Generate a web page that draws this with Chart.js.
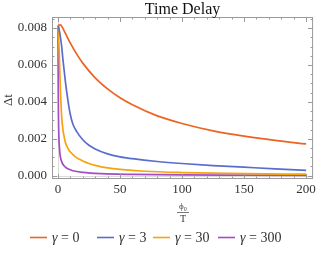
<!DOCTYPE html>
<html>
<head>
<meta charset="utf-8">
<script src="https://cdn.jsdelivr.net/npm/chart.js@4.4.1/dist/chart.umd.min.js"></script>
<style>
  html, body { margin: 0; padding: 0; background: #fff; }
  #wrap { position: relative; width: 319px; height: 253px; }
</style>
</head>
<body>
<div id="wrap"><canvas id="delay-chart" width="319" height="253"></canvas></div>
<script>
// values
const xTicks = [0, 50, 100, 150, 200];
const yTicks = [0, 0.002, 0.004, 0.006, 0.008];
const seriesLabels = ['0', '3', '30', '300'];
const seriesColors = ['#ec6420', '#5b6dcc', '#f5a30f', '#a44cc2'];

const gamma0X = [0, 1, 2, 3, 5, 7, 10, 15, 20, 30, 40, 50, 60, 80, 100, 125, 150, 175, 200];
const gamma0Y = [0.00812, 0.00817, 0.00818, 0.0081, 0.00785, 0.00758, 0.00718, 0.0066, 0.0061, 0.0053, 0.0047, 0.00422, 0.00384, 0.00324, 0.00283, 0.00243, 0.00214, 0.00191, 0.00172];

const gamma3X = [0, 0.5, 1, 2, 3, 4, 5, 6, 8, 10, 12, 15, 20, 25, 30, 40, 50, 60, 80, 100, 125, 150, 175, 200];
const gamma3Y = [0.00812, 0.00808, 0.0079, 0.0075, 0.007, 0.0063, 0.0057, 0.0051, 0.0041, 0.0033, 0.0028, 0.0024, 0.00195, 0.00165, 0.00145, 0.00118, 0.00102, 0.00092, 0.00077, 0.00066, 0.00055, 0.00046, 0.00037, 0.00029];

const gamma30X = [0, 0.5, 1, 1.5, 2, 3, 4, 5, 6, 8, 10, 12, 15, 20, 25, 30, 40, 50, 70, 100, 150, 200];
const gamma30Y = [0.00812, 0.0076, 0.0067, 0.0056, 0.0046, 0.0032, 0.0025, 0.0021, 0.0018, 0.00148, 0.00128, 0.00115, 0.00098, 0.0008, 0.00066, 0.00056, 0.00042, 0.00034, 0.00024, 0.00017, 0.00011, 0.00008];

const gamma300X = [0, 0.1, 0.2, 0.35, 0.5, 0.75, 1, 1.5, 2, 3, 4, 6, 8, 12, 20, 35, 60, 100, 150, 200];
const gamma300Y = [0.00812, 0.0068, 0.0052, 0.0036, 0.0028, 0.0021, 0.0017, 0.00125, 0.001, 0.00076, 0.00062, 0.00046, 0.00037, 0.00027, 0.00018, 0.00011, 0.00007, 0.00004, 0.00003, 0.00002];

const xs = [gamma0X, gamma3X, gamma30X, gamma300X];
const ys = [gamma0Y, gamma3Y, gamma30Y, gamma300Y];

const serif = '"Liberation Serif", "DejaVu Serif", serif';
const frameColor = '#9a9a9a';
const textColor = '#333';

// Mathematica style frame: inward ticks on all four sides, light axes at zero
const framePlugin = {
  id: 'frame',
  beforeDatasetsDraw(chart) {
    const { ctx, chartArea: a, scales } = chart;
    const x = scales.x, y = scales.y;
    ctx.save();
    ctx.strokeStyle = '#dcdcdc';
    ctx.lineWidth = 1;
    ctx.beginPath();
    const x0 = Math.round(x.getPixelForValue(0)) + 0.5;
    const y0 = Math.round(y.getPixelForValue(0)) + 0.5;
    ctx.moveTo(x0, a.top); ctx.lineTo(x0, a.bottom);
    ctx.moveTo(a.left, y0); ctx.lineTo(a.right, y0);
    ctx.stroke();
    ctx.restore();
  },
  afterDatasetsDraw(chart) {
    const { ctx, chartArea: a, scales } = chart;
    const x = scales.x, y = scales.y;
    ctx.save();
    ctx.strokeStyle = frameColor;
    ctx.lineWidth = 1;
    ctx.strokeRect(a.left + 0.5, a.top + 0.5, a.right - a.left - 1, a.bottom - a.top - 1);
    ctx.beginPath();
    for (let v = 0; v <= 200; v += 10) {
      const len = v % 50 === 0 ? 5 : 2.5;
      const px = Math.round(x.getPixelForValue(v)) + 0.5;
      ctx.moveTo(px, a.bottom); ctx.lineTo(px, a.bottom - len);
      ctx.moveTo(px, a.top); ctx.lineTo(px, a.top + len);
    }
    for (let i = 0; i <= 17; i++) {
      const v = i * 0.0005;
      const len = i % 4 === 0 ? 5 : 2.5;
      const py = Math.round(y.getPixelForValue(v)) + 0.5;
      if (py < a.top || py > a.bottom) continue;
      ctx.moveTo(a.left, py); ctx.lineTo(a.left + len, py);
      ctx.moveTo(a.right, py); ctx.lineTo(a.right - len, py);
    }
    ctx.stroke();
    ctx.restore();
  },
  afterDraw(chart) {
    const { ctx, chartArea: a } = chart;
    ctx.save();
    ctx.fillStyle = '#111';
    ctx.textAlign = 'center';
    ctx.textBaseline = 'middle';
    // title
    ctx.font = '16px ' + serif;
    ctx.fillText('Time Delay', (a.left + a.right) / 2, 10);
    // y label
    ctx.save();
    ctx.translate(9, 100);
    ctx.rotate(-Math.PI / 2);
    ctx.font = '13px ' + serif;
    ctx.fillStyle = textColor;
    ctx.fillText('Δt', 0, 0);
    ctx.restore();
    // x label as a fraction
    const cx = 183;
    ctx.fillStyle = textColor;
    ctx.font = '9px ' + serif;
    ctx.fillText('ϕ₀', cx, 207);
    ctx.strokeStyle = '#555';
    ctx.lineWidth = 0.8;
    ctx.beginPath();
    ctx.moveTo(cx - 6, 212.5); ctx.lineTo(cx + 6, 212.5);
    ctx.stroke();
    ctx.font = '10px ' + serif;
    ctx.fillText('T', cx, 219.5);
    // legend
    const ly = 237;
    const starts = [30, 97, 153, 218];
    ctx.textAlign = 'left';
    chart.data.datasets.forEach((ds, i) => {
      const sx = starts[i];
      ctx.strokeStyle = ds.borderColor;
      ctx.lineWidth = 1.6;
      ctx.beginPath();
      ctx.moveTo(sx, ly + 0.5); ctx.lineTo(sx + 17, ly + 0.5);
      ctx.stroke();
      ctx.fillStyle = textColor;
      ctx.font = 'italic 14px ' + serif;
      const tx = sx + 22;
      ctx.fillText('γ', tx, ly + 1);
      const gw = ctx.measureText('γ').width;
      ctx.font = '14px ' + serif;
      ctx.fillText(' = ' + seriesLabels[i], tx + gw, ly + 1);
    });
    ctx.restore();
  }
};

const datasets = xs.map((xv, i) => ({
  label: 'γ = ' + seriesLabels[i],
  data: xv.map((v, j) => ({ x: v, y: ys[i][j] })),
  borderColor: seriesColors[i],
  backgroundColor: seriesColors[i],
  borderWidth: 1.7,
  pointRadius: 0,
  fill: false,
  cubicInterpolationMode: 'monotone'
}));

new Chart(document.getElementById('delay-chart').getContext('2d'), {
  type: 'line',
  data: { datasets },
  options: {
    responsive: false,
    animation: false,
    events: [],
    layout: { padding: { top: 17, right: 5, bottom: 54, left: 0 } },
    plugins: { legend: { display: false }, tooltip: { enabled: false }, title: { display: false } },
    scales: {
      x: {
        type: 'linear',
        min: -4.8,
        max: 205.6,
        grid: { display: false, drawTicks: false },
        border: { display: false },
        afterBuildTicks: (s) => { s.ticks = xTicks.map(v => ({ value: v })); },
        afterFit: (s) => { s.height = 20; },
        ticks: {
          padding: 3,
          color: textColor,
          maxRotation: 0,
          font: { family: serif, size: 13 },
          callback: (v) => String(v)
        }
      },
      y: {
        min: -0.00018,
        max: 0.0086,
        grid: { display: false, drawTicks: false },
        border: { display: false },
        afterBuildTicks: (s) => { s.ticks = yTicks.map(v => ({ value: v })); },
        afterFit: (s) => { s.width = 52; },
        ticks: {
          padding: 5,
          color: textColor,
          font: { family: serif, size: 13 },
          callback: (v) => Number(v).toFixed(3)
        }
      }
    }
  },
  plugins: [framePlugin]
});
</script>
</body>
</html>
